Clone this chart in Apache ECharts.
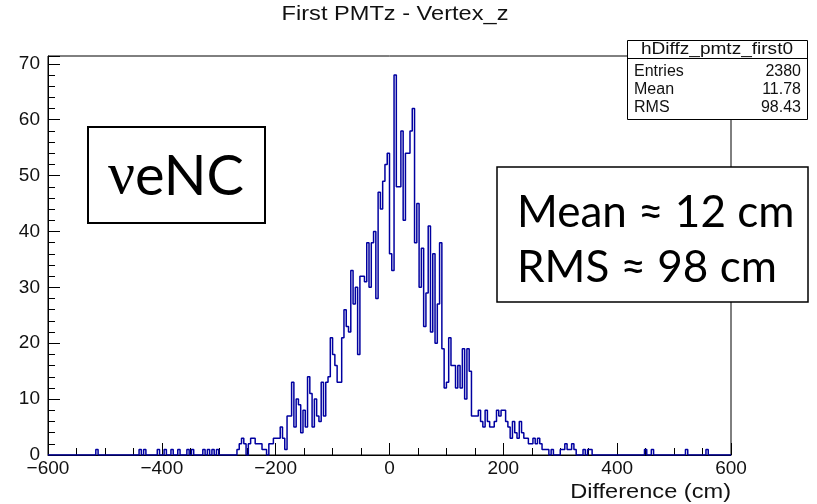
<!DOCTYPE html>
<html>
<head>
<meta charset="utf-8">
<script src="https://cdn.jsdelivr.net/npm/echarts/dist/echarts.min.js"></script>
<style>html,body{margin:0;padding:0;background:#fff}#c{width:817px;height:504px}</style>
</head>
<body>
<div id="c"></div>
<script>
// Histogram binning: 300 bins of 4 cm from -600 to 600
const binLow = -600;
const binWidth = 4;
// bin contents (rows of 20 bins)
const counts = [
  0,0,0,0,0,0,0,0,0,0,0,0,0,0,0,0,0,0,0,0,
  0,1,0,0,0,0,0,0,0,0,0,0,0,0,0,0,0,0,0,0,
  1,0,1,0,0,0,0,0,1,0,0,1,0,0,1,0,0,1,0,0,
  0,1,0,1,0,0,0,0,1,0,1,0,1,0,1,0,0,0,0,0,
  0,0,0,1,2,3,2,0,2,3,3,2,2,2,1,1,0,2,2,3,
  3,3,5,3,1,7,7,13,5,10,9,4,8,5,14,11,5,10,7,6,
  13,7,13,14,21,18,16,13,13,21,26,23,22,33,27,30,18,32,32,31,
  38,30,38,40,28,47,44,49,52,54,36,33,68,48,48,58,42,54,54,58,
  62,38,45,30,37,23,29,41,22,36,20,27,38,19,12,13,21,16,16,12,
  16,12,19,10,19,15,7,7,7,8,6,5,8,6,5,5,6,8,7,8,
  8,6,5,3,6,4,3,6,4,3,3,2,2,3,2,3,2,1,1,1,
  0,1,0,0,0,1,1,2,1,1,2,1,0,0,0,1,0,1,1,0,
  0,0,0,0,0,0,0,0,0,0,0,0,0,0,0,0,0,0,0,0,
  0,0,1,0,0,1,0,0,0,0,0,0,0,0,0,0,0,0,0,0,
  1,0,0,0,0,0,0,0,0,1,0,0,0,0,0,0,0,0,0,0
];
const titleText = 'First PMTz - Vertex_z';
const xAxisTitle = 'Difference (cm)';
const histName = 'hDiffz_pmtz_first0';
const statsLabels = ['Entries', 'Mean', 'RMS'];
const statsValues = ['2380', '11.78', '98.43'];
const sampleNu = '\u03bd';
const sampleRest = 'eNC';
const noteLines = ['Mean \u2248 12 cm', 'RMS \u2248 98 cm'];

const stepData = counts.map((c, i) => [binLow + i * binWidth, c]);
stepData.push([binLow + counts.length * binWidth, counts[counts.length - 1]]);

const rootFont = '"Liberation Sans", Arial, sans-serif';
const slideFont = 'Lato, "Open Sans", "Noto Sans", sans-serif';

const graphic = [];
graphic.push({type:'text', x:395, y:14, z:100, scaleX:1.18, style:{text:titleText, font:'20px ' + rootFont, fill:'#111', textAlign:'center', textVerticalAlign:'middle'}});
graphic.push({type:'text', x:731, y:492, z:100, scaleX:1.18, style:{text:xAxisTitle, font:'20px ' + rootFont, fill:'#111', textAlign:'right', textVerticalAlign:'middle'}});
// stats box
graphic.push({type:'rect', z:100, shape:{x:627.5, y:40.5, width:180, height:79}, style:{fill:'#fff', stroke:'#000', lineWidth:1}});
graphic.push({type:'line', z:101, shape:{x1:627.5, y1:58.5, x2:807.5, y2:58.5}, style:{stroke:'#000', lineWidth:1}});
graphic.push({type:'text', z:102, x:717, y:49.5, scaleX:1.12, style:{text:histName, font:'17px ' + rootFont, fill:'#111', textAlign:'center', textVerticalAlign:'middle'}});
statsLabels.forEach((lab, k) => {
  graphic.push({type:'text', z:102, x:634, y:72 + k * 18, style:{text:lab, font:'16px ' + rootFont, fill:'#111', textAlign:'left', textVerticalAlign:'middle'}});
  graphic.push({type:'text', z:102, x:801, y:72 + k * 18, style:{text:statsValues[k], font:'16px ' + rootFont, fill:'#111', textAlign:'right', textVerticalAlign:'middle'}});
});
// sample label box
graphic.push({type:'rect', z:100, shape:{x:88, y:127, width:177, height:96}, style:{fill:'#fff', stroke:'#000', lineWidth:2}});
graphic.push({type:'text', z:101, x:176, y:177, style:{
  text:'{nu|' + sampleNu + '}' + sampleRest, font:'56px ' + slideFont, fill:'#000', textAlign:'center', textVerticalAlign:'middle',
  rich:{nu:{font:'60px "Liberation Serif", "DejaVu Serif", serif', fill:'#000'}}}});
// note box
graphic.push({type:'rect', z:100, shape:{x:497, y:167, width:311, height:135}, style:{fill:'#fff', stroke:'#000', lineWidth:1.5}});
noteLines.forEach((t, k) => {
  graphic.push({type:'text', z:101, x:517, y:213 + k * 55, style:{text:t, font:'44px ' + slideFont, fill:'#000', textAlign:'left', textVerticalAlign:'middle'}});
});

const chart = echarts.init(document.getElementById('c'), null, {renderer:'canvas'});
chart.setOption({
  animation: false,
  backgroundColor: '#fff',
  grid: {left:48, right:86, top:56, bottom:49, show:true, borderColor:'#000', borderWidth:1, backgroundColor:'transparent'},
  xAxis: {
    type:'value', min:-600, max:600, interval:200,
    axisLine:{show:true, onZero:false, lineStyle:{color:'#000', width:1}},
    axisTick:{show:true, inside:true, length:12, lineStyle:{color:'#000', width:1}},
    minorTick:{show:true, splitNumber:4, length:7, lineStyle:{color:'#000', width:1}},
    splitLine:{show:false},
    axisLabel:{fontFamily:'Liberation Sans', fontSize:19, color:'#111', margin:4,
      formatter: v => String(v).replace('-', '\u2212')}
  },
  yAxis: {
    type:'value', min:0, max:71.4, interval:10,
    axisLine:{show:true, onZero:false, lineStyle:{color:'#000', width:1}},
    axisTick:{show:true, inside:true, length:12, lineStyle:{color:'#000', width:1}},
    minorTick:{show:true, splitNumber:5, length:7, lineStyle:{color:'#000', width:1}},
    splitLine:{show:false},
    axisLabel:{fontFamily:'Liberation Sans', fontSize:19, color:'#111', margin:8, showMaxLabel:false}
  },
  series: [{
    type:'line', step:'end', data:stepData, showSymbol:false, symbol:'none',
    lineStyle:{color:'#0000a0', width:1.5}, clip:true, z:2
  }],
  graphic: graphic
});
</script>
</body>
</html>
